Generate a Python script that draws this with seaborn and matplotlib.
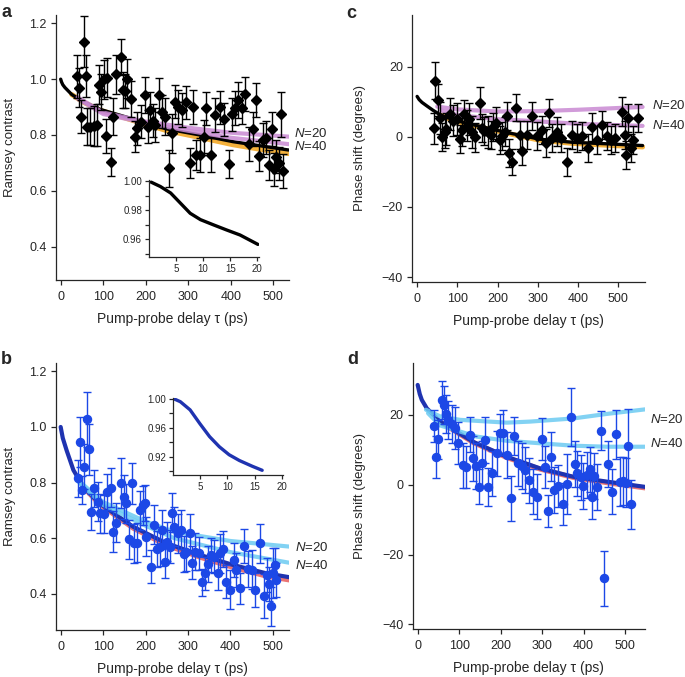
import matplotlib
matplotlib.use("Agg")
import matplotlib.pyplot as plt
import seaborn as sns

# ---------------- panel a : Ramsey contrast (black) ----------------
a_delay = [38, 44, 48, 55, 59, 62, 69, 78, 86, 89,
           96, 102, 106, 108, 118, 123, 131, 141, 147, 152,
           157, 166, 174, 180, 188, 199, 205, 211, 216, 223,
           231, 238, 245, 255, 262, 270, 277, 286, 295, 304,
           311, 319, 327, 337, 342, 354, 364, 375, 383, 395,
           402, 409, 418, 426, 433, 442, 452, 459, 466, 475,
           483, 491, 497, 501, 506, 514, 518, 523]
a_contrast = [1.011, 0.97, 0.866, 1.135, 1.01, 0.83, 0.83, 0.832, 0.836, 0.98,
              0.955, 0.999, 0.796, 1.005, 0.704, 0.866, 1.018, 1.08, 0.96, 0.958,
              1.002, 0.93, 0.794, 0.824, 0.848, 0.944, 0.83, 0.89, 0.851, 0.836,
              0.943, 0.884, 0.866, 0.68, 0.806, 0.919, 0.90, 0.89, 0.917, 0.70,
              0.90, 0.728, 0.728, 0.794, 0.895, 0.728, 0.872, 0.899, 0.856, 0.696,
              0.874, 0.896, 0.925, 0.898, 0.946, 0.767, 0.822, 0.925, 0.725, 0.782,
              0.79, 0.692, 0.822, 0.677, 0.722, 0.698, 0.874, 0.67]
a_err = [0.077, 0.07, 0.06, 0.093, 0.075, 0.065, 0.065, 0.07, 0.075, 0.07,
         0.065, 0.07, 0.06, 0.07, 0.05, 0.065, 0.07, 0.065, 0.065, 0.06,
         0.07, 0.065, 0.055, 0.06, 0.06, 0.065, 0.06, 0.065, 0.06, 0.06,
         0.06, 0.06, 0.065, 0.065, 0.07, 0.06, 0.06, 0.06, 0.06, 0.055,
         0.06, 0.055, 0.06, 0.06, 0.06, 0.06, 0.06, 0.06, 0.06, 0.05,
         0.06, 0.06, 0.065, 0.06, 0.06, 0.06, 0.06, 0.06, 0.055, 0.06,
         0.06, 0.055, 0.06, 0.06, 0.06, 0.06, 0.08, 0.06]
a_fit_x = [0, 2, 5, 10, 26, 53, 92, 170, 248, 327, 405, 483, 536]
a_fit_y = [1.0, 0.99, 0.98, 0.97, 0.945, 0.919, 0.892, 0.857, 0.822, 0.80, 0.776, 0.758, 0.746]
a_band_x = [26, 53, 92, 170, 248, 327, 405, 483, 536]
a_band_y = [0.945, 0.918, 0.889, 0.852, 0.816, 0.791, 0.765, 0.745, 0.733]
a_n_x = [40, 100, 200, 300, 400, 536]
a_n20_y = [0.935, 0.88, 0.848, 0.826, 0.808, 0.794]
a_n40_y = [0.93, 0.875, 0.843, 0.815, 0.79, 0.767]
a_inset_x = [0.4, 2.1, 4.0, 5.8, 7.6, 9.5, 11.9, 14.3, 16.8, 20.1]
a_inset_y = [0.9995, 0.9965, 0.992, 0.985, 0.978, 0.9736, 0.970, 0.9665, 0.963, 0.9565]

# ---------------- panel b : Ramsey contrast (blue) ----------------
b_delay = [40, 45.5, 50, 56, 63, 67, 70.5, 78, 87, 92.5,
           102, 110, 118, 124, 131, 141, 149, 154, 162, 169,
           173, 179, 186.5, 193, 198, 202, 212, 220, 227, 233.5,
           239, 245, 251, 257, 263, 268, 277, 284, 291, 296,
           304, 310, 316, 326, 333, 341, 347, 355, 361, 371,
           376, 382, 390, 398, 407.5, 414, 421.6, 433, 441, 451,
           459, 469, 478, 486, 492, 496, 500, 505, 508]
b_contrast = [0.815, 0.946, 0.773, 0.857, 1.027, 0.919, 0.693, 0.779, 0.731, 0.69,
              0.687, 0.767, 0.781, 0.624, 0.656, 0.797, 0.749, 0.725, 0.597, 0.797,
              0.582, 0.584, 0.701, 0.719, 0.728, 0.606, 0.498, 0.648, 0.56, 0.57,
              0.63, 0.516, 0.588, 0.57, 0.692, 0.642, 0.617, 0.63, 0.543, 0.552,
              0.617, 0.512, 0.552, 0.546, 0.441, 0.474, 0.507, 0.54, 0.534, 0.474,
              0.546, 0.56, 0.444, 0.414, 0.522, 0.486, 0.42, 0.572, 0.488, 0.486,
              0.414, 0.582, 0.393, 0.468, 0.435, 0.355, 0.474, 0.504, 0.45]
b_err = [0.065, 0.09, 0.05, 0.08, 0.1, 0.09, 0.065, 0.065, 0.07, 0.07,
         0.07, 0.065, 0.07, 0.075, 0.07, 0.09, 0.08, 0.07, 0.07, 0.075,
         0.07, 0.07, 0.07, 0.07, 0.065, 0.07, 0.06, 0.07, 0.065, 0.07,
         0.07, 0.06, 0.07, 0.06, 0.07, 0.07, 0.07, 0.07, 0.065, 0.07,
         0.07, 0.06, 0.065, 0.06, 0.05, 0.06, 0.065, 0.06, 0.06, 0.06,
         0.07, 0.065, 0.06, 0.07, 0.06, 0.06, 0.055, 0.06, 0.065, 0.07,
         0.06, 0.07, 0.08, 0.06, 0.06, 0.07, 0.09, 0.06, 0.06]
b_fit_x = [0, 5, 14, 30, 53, 92, 171, 249, 328, 406, 484, 538]
b_fit_y = [1.0, 0.96, 0.916, 0.845, 0.785, 0.725, 0.641, 0.582, 0.54, 0.504, 0.474, 0.46]
b_band_x = [53, 92, 171, 249, 328, 406, 484, 538]
b_band_y = [0.784, 0.722, 0.636, 0.575, 0.532, 0.495, 0.464, 0.45]
b_n_x = [40, 100, 200, 268, 400, 538]
b_n20_y = [0.81, 0.73, 0.66, 0.623, 0.59, 0.57]
b_n40_y = [0.805, 0.72, 0.645, 0.60, 0.55, 0.512]
b_inset_x = [0.2, 1.3, 3.1, 4.9, 6.7, 8.5, 10.3, 12.2, 14.6, 16.4]
b_inset_y = [1.0, 0.9963, 0.985, 0.966, 0.948, 0.934, 0.923, 0.915, 0.907, 0.9015]

# ---------------- panel c : phase shift (black) ----------------
c_delay = [41, 45, 53, 57, 63, 68, 72, 82, 90, 98,
           107, 111, 117, 123, 130, 136, 143, 155, 161, 166,
           175, 183, 189, 196, 205, 212, 218, 223, 228, 236,
           246, 256, 260, 272, 286, 297, 310, 320, 328, 334,
           347, 358, 372, 384, 397, 409, 424, 434, 446, 459,
           471, 482, 492, 508, 517, 519, 525, 531, 537, 548]
c_phase = [2.4, 16.0, 10.5, 5.3, 0.0, 1.3, 2.2, 6.5, 4.6, 5.1,
           -0.7, 2.0, 6.5, 3.2, 5.1, 1.3, -0.2, 9.6, 2.5, 1.6,
           1.3, 0.6, 2.9, 4.0, -0.8, 0.2, 1.5, 5.9, -4.5, -7.2,
           8.3, 0.6, -4.1, 0.6, 5.8, 0.1, 2.0, -1.8, 6.8, -0.4,
           1.5, -0.4, -7.3, 0.6, -0.4, 0.3, -3.2, 2.9, -0.9, 3.4,
           0.1, -0.9, -0.4, 7.2, 0.6, -5.1, 5.3, -3.2, -0.9, 5.3]
c_err = [4.5, 5.3, 4.5, 4.5, 4.0, 4.5, 4.5, 4.5, 4.5, 4.5,
         4.0, 4.5, 4.0, 4.5, 4.5, 4.5, 4.0, 4.5, 4.0, 4.0,
         4.5, 4.0, 4.0, 4.5, 4.0, 4.0, 4.0, 4.0, 4.0, 3.8,
         3.8, 4.0, 4.0, 4.0, 4.0, 4.0, 4.0, 4.0, 4.0, 4.0,
         4.0, 4.0, 4.0, 4.0, 4.0, 4.0, 4.0, 4.0, 4.0, 4.0,
         4.0, 4.0, 4.0, 4.0, 4.0, 4.0, 4.0, 4.0, 4.0, 4.0]
c_fit_x = [0, 5, 12, 24, 40, 57, 90, 140, 223, 305, 388, 471, 560]
c_fit_y = [11.5, 10.6, 9.8, 8.8, 7.5, 6.3, 4.8, 3.4, 1.2, -0.7, -1.6, -2.0, -2.5]
c_band_x = [57, 90, 140, 223, 305, 388, 471, 560]
c_band_y = [6.2, 4.6, 3.2, 1.0, -1.0, -1.9, -2.4, -2.9]
c_n20_x = [50, 100, 200, 300, 400, 500, 560]
c_n20_y = [8.6, 7.8, 7.2, 7.3, 7.7, 8.2, 8.5]
c_n40_x = [60, 100, 200, 268, 400, 500, 560]
c_n40_y = [7.5, 6.2, 5.0, 4.6, 3.7, 3.3, 3.1]

# ---------------- panel d : phase shift (blue) ----------------
d_delay = [39, 44, 50, 58, 63.5, 68, 74, 82, 90, 98,
           108.5, 116.6, 126, 132.6, 140.7, 148.7, 154, 162, 169, 178,
           190.5, 198.5, 206.6, 216, 225, 233, 243, 251, 259, 269,
           279, 288.6, 299, 307, 315, 321, 329.6, 339, 350, 361,
           369, 379, 385, 393, 399.5, 409, 415.6, 419.6, 425, 433,
           442, 449, 458, 468, 478, 488, 494, 502, 508, 513.7]
d_phase = [16.8, 8.0, 13.0, 24.3, 22.9, 20.3, 18.6, 17.4, 16.2, 11.9,
           5.6, 5.2, 14.3, 7.6, 5.4, -0.6, 6.1, 12.8, -0.6, 3.3,
           9.0, 14.7, 14.9, 8.5, -3.9, 14.0, 6.1, 5.4, 4.2, 1.3,
           -2.0, -3.4, 13.1, 5.2, -7.5, 8.0, -1.5, -0.4, -5.4, 0.2,
           19.5, 5.9, 3.3, 2.1, -0.4, 2.8, 4.4, -3.4, 2.5, -0.6,
           15.5, -26.8, 5.9, -2.0, 14.5, 0.9, 1.1, 0.6, 11.1, -5.6]
d_err = [4.5, 6.0, 5.5, 5.5, 5.5, 5.5, 5.5, 5.5, 6.0, 6.0,
         6.5, 6.0, 5.0, 6.5, 6.5, 5.0, 6.5, 6.5, 5.5, 6.5,
         6.5, 5.5, 6.5, 6.5, 6.5, 5.5, 6.5, 6.5, 6.5, 6.5,
         6.5, 6.5, 6.0, 6.0, 4.5, 7.0, 6.5, 6.0, 6.0, 8.5,
         8.3, 6.5, 6.5, 6.5, 6.5, 6.5, 6.5, 6.5, 6.5, 6.5,
         5.5, 7.8, 6.5, 6.5, 7.0, 7.0, 7.0, 7.0, 10.5, 7.0]
d_fit_x = [0, 5, 10, 22, 54, 134, 215, 295, 375, 456, 548]
d_fit_y = [28.6, 26.0, 24.3, 21.9, 18.1, 12.3, 8.0, 4.7, 2.3, 0.9, -0.6]
d_band_x = [54, 134, 215, 295, 375, 456, 548]
d_band_y = [18.0, 12.1, 7.8, 4.5, 2.1, 0.6, -0.9]
d_n20_x = [20, 54, 102, 215, 271, 375, 456, 548]
d_n20_y = [21.5, 19.6, 18.6, 17.8, 18.1, 19.0, 20.3, 21.6]
d_n40_x = [25, 54, 142, 215, 271, 375, 456, 548]
d_n40_y = [20.5, 17.0, 13.8, 12.6, 12.1, 11.2, 10.9, 10.9]

# ---------------- style ----------------
sns.set_style("ticks")
plt.rcParams["font.family"] = ["Liberation Sans", "DejaVu Sans"]
plt.rcParams["mathtext.fontset"] = "custom"
plt.rcParams["mathtext.it"] = "Liberation Sans:italic"
plt.rcParams["mathtext.rm"] = "Liberation Sans"
plt.rcParams["axes.linewidth"] = 0.9
plt.rcParams["xtick.major.width"] = 0.9
plt.rcParams["ytick.major.width"] = 0.9
plt.rcParams["ytick.minor.width"] = 0.9

BLACK = "#000000"
ORANGE = "#f4b13c"
PURPLE = "#c98ad3"
BLUE = "#1c48e6"
DARKBLUE = "#1f33b0"
RED = "#ea7474"
LIGHTBLUE = "#6ccbf2"

W, H = 685, 677
fig = plt.figure(figsize=(W / 100, H / 100), dpi=100)


def rect(l, r, t, b):
    return [l / W, 1 - b / H, (r - l) / W, (b - t) / H]


def line(ax, x, y, color, lw, alpha=1.0, z=2):
    sns.lineplot(x=x, y=y, ax=ax, color=color, linewidth=lw, alpha=alpha,
                 estimator=None, sort=False, legend=False, zorder=z)


def main_panel(ax, xs, ys, es, color, marker, ms, fit, band,
               band_color, fit_color, n_color, n20, n40, fit_lw):
    line(ax, band[0], band[1], band_color, 3.6, z=1)
    line(ax, fit[0], fit[1], fit_color, fit_lw, z=2)
    line(ax, n20[0], n20[1], n_color, 3.0, alpha=0.85, z=3)
    line(ax, n40[0], n40[1], n_color, 3.0, alpha=0.85, z=3)
    ax.errorbar(xs, ys, yerr=es, fmt=marker, ms=ms, color=color, ecolor=color,
                elinewidth=1.0, capsize=2.6, capthick=1.0, zorder=4)
    sns.despine(ax=ax)
    ax.set_xticks([0, 100, 200, 300, 400, 500])
    ax.tick_params(axis="both", direction="out", length=3.8, labelsize=9)
    ax.tick_params(axis="x", pad=4)
    ax.tick_params(axis="y", pad=3)
    ax.set_xlabel("Pump-probe delay τ (ps)", fontsize=10)
    ax.xaxis.set_label_coords(0.5, -0.12)


def inset(ax, x, y, color, ylim, yt, yminor):
    line(ax, x, y, color, 2.4)
    sns.despine(ax=ax)
    ax.set_xlim(0, 20.3)
    ax.set_ylim(*ylim)
    ax.set_xticks([5, 10, 15, 20])
    ax.set_yticks(yt)
    ax.set_yticklabels([f"{v:.2f}" for v in yt])
    ax.set_yticks(yminor, minor=True)
    ax.tick_params(axis="both", which="both", direction="out", length=3,
                   labelsize=7, pad=2)
    ax.patch.set_alpha(0)


# panel a
ax_a = fig.add_axes(rect(56, 289, 15, 280))
main_panel(ax_a, a_delay, a_contrast, a_err, BLACK, "D", 4.6,
           (a_fit_x, a_fit_y), (a_band_x, a_band_y), ORANGE, BLACK, PURPLE,
           (a_n_x, a_n20_y), (a_n_x, a_n40_y), 2.4)
ax_a.set_xlim(-11, 537)
ax_a.set_ylim(0.28, 1.23)
ax_a.set_yticks([0.4, 0.6, 0.8, 1.0, 1.2])
ax_a.set_ylabel("Ramsey contrast", fontsize=9.5)
ax_a.yaxis.set_label_coords(-0.17, 0.5)
ax_a.text(549, 0.806, "$N$=20", fontsize=9.5, va="center", ha="left", clip_on=False)
ax_a.text(549, 0.758, "$N$=40", fontsize=9.5, va="center", ha="left", clip_on=False)

ax_ai = fig.add_axes(rect(149, 259, 180, 256.7))
inset(ax_ai, a_inset_x, a_inset_y, BLACK, (0.948, 1.001),
      [0.96, 0.98, 1.00], [0.95, 0.97, 0.99])

# panel b
ax_b = fig.add_axes(rect(56, 289, 363, 630))
main_panel(ax_b, b_delay, b_contrast, b_err, BLUE, "o", 5.8,
           (b_fit_x, b_fit_y), (b_band_x, b_band_y), RED, DARKBLUE, LIGHTBLUE,
           (b_n_x, b_n20_y), (b_n_x, b_n40_y), 3.0)
ax_b.set_xlim(-11, 538)
ax_b.set_ylim(0.27, 1.23)
ax_b.set_yticks([0.4, 0.6, 0.8, 1.0, 1.2])
ax_b.set_ylabel("Ramsey contrast", fontsize=9.5)
ax_b.yaxis.set_label_coords(-0.17, 0.5)
ax_b.text(551, 0.567, "$N$=20", fontsize=9.5, va="center", ha="left", clip_on=False)
ax_b.text(551, 0.502, "$N$=40", fontsize=9.5, va="center", ha="left", clip_on=False)

ax_bi = fig.add_axes(rect(173.3, 283.3, 398.3, 475))
inset(ax_bi, b_inset_x, b_inset_y, DARKBLUE, (0.895, 1.001),
      [0.92, 0.96, 1.00], [0.90, 0.94, 0.98])

# panel c
ax_c = fig.add_axes(rect(412.3, 645, 15, 281.7))
main_panel(ax_c, c_delay, c_phase, c_err, BLACK, "D", 4.6,
           (c_fit_x, c_fit_y), (c_band_x, c_band_y), ORANGE, BLACK, PURPLE,
           (c_n20_x, c_n20_y), (c_n40_x, c_n40_y), 2.4)
ax_c.set_xlim(-12, 566)
ax_c.set_ylim(-41.3, 34.7)
ax_c.set_yticks([-40, -20, 0, 20])
ax_c.set_yticklabels(["\u221240", "\u221220", "0", "20"])
ax_c.set_ylabel("Phase shift (degrees)", fontsize=9.5)
ax_c.yaxis.set_label_coords(-0.2, 0.5)
ax_c.text(583, 8.8, "$N$=20", fontsize=9.5, va="center", ha="left", clip_on=False)
ax_c.text(583, 3.3, "$N$=40", fontsize=9.5, va="center", ha="left", clip_on=False)

# panel d
ax_d = fig.add_axes(rect(412.7, 645, 363.3, 629.3))
main_panel(ax_d, d_delay, d_phase, d_err, BLUE, "o", 5.8,
           (d_fit_x, d_fit_y), (d_band_x, d_band_y), RED, DARKBLUE, LIGHTBLUE,
           (d_n20_x, d_n20_y), (d_n40_x, d_n40_y), 3.0)
ax_d.set_xlim(-12, 548)
ax_d.set_ylim(-41.4, 34.8)
ax_d.set_yticks([-40, -20, 0, 20])
ax_d.set_yticklabels(["\u221240", "\u221220", "0", "20"])
ax_d.set_ylabel("Phase shift (degrees)", fontsize=9.5)
ax_d.yaxis.set_label_coords(-0.2, 0.5)
ax_d.text(560, 18.6, "$N$=20", fontsize=9.5, va="center", ha="left", clip_on=False)
ax_d.text(560, 11.7, "$N$=40", fontsize=9.5, va="center", ha="left", clip_on=False)

# panel letters
for lab, px, py in [("a", 1, 12.5), ("c", 346, 13), ("b", 1, 360), ("d", 347, 360)]:
    fig.text(px / W, 1 - py / H, lab, fontsize=13, fontweight="bold",
             ha="left", va="center")

fig.savefig("out.png", dpi=100)
